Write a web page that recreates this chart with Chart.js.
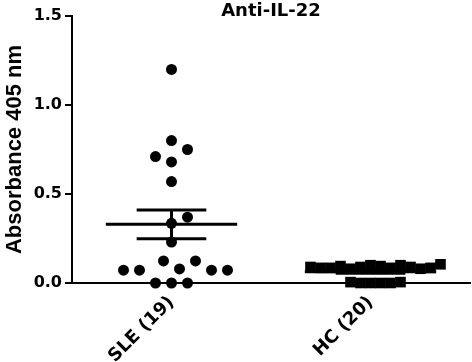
<!DOCTYPE html>
<html>
<head>
<meta charset="utf-8">
<script src="https://cdn.jsdelivr.net/npm/chart.js@4.4.1/dist/chart.umd.min.js"></script>
<style>
    html, body { margin: 0; padding: 0; background: #fff; }
    #wrap { width: 472px; height: 362px; }
</style>
</head>
<body>
<div id="wrap"><canvas id="chart"></canvas></div>
<script>
// data
var categories = ["SLE (19)", "HC (20)"];
var sleValues = [0, 0, 0, 0.079, 0.124, 0.124, 0.072, 0.072, 0.072, 0.072,
                 0.23, 0.335, 0.37, 0.57, 0.80, 0.75, 0.68, 0.71, 1.2];
var hcValues = [0, 0, 0, 0, 0.005, 0.005,
                0.1, 0.095, 0.09, 0.085, 0.08, 0.1, 0.095, 0.09, 0.085, 0.08,
                0.085, 0.085, 0.09, 0.105];
var yTicks = [0, 0.5, 1.0, 1.5];

function mean(a) {
    return a.reduce(function (s, v) { return s + v; }, 0) / a.length;
}
function sem(a) {
    var m = mean(a);
    var ss = a.reduce(function (s, v) { return s + (v - m) * (v - m); }, 0);
    return Math.sqrt(ss / (a.length - 1)) / Math.sqrt(a.length);
}

var groups = [
    { values: sleValues, style: "circle", radius: 5.5, swarm: 16 },
    { values: hcValues, style: "rect", radius: 7.5, swarm: 10 }
];

var datasets = [];
function segment(x1, y1, x2, y2) {
    datasets.push({
        data: [{ x: x1, y: y1 }, { x: x2, y: y2 }],
        showLine: true,
        borderColor: "#000",
        borderWidth: 3,
        pointRadius: 0,
        clip: false,
        order: 0
    });
}

groups.forEach(function (g, i) {
    var c = i + 0.5;
    g.dataIndex = datasets.length;
    datasets.push({
        data: g.values.map(function (v) { return { x: c, y: v }; }),
        pointStyle: g.style,
        pointRadius: g.radius,
        backgroundColor: "#000",
        borderWidth: 0,
        clip: false,
        order: 1
    });
    var m = mean(g.values), s = sem(g.values);
    segment(c - 0.33, m, c + 0.33, m);
    segment(c - 0.175, m + s, c + 0.175, m + s);
    segment(c - 0.175, m - s, c + 0.175, m - s);
    segment(c, m - s, c, m + s);
});

var chart = new Chart(document.getElementById("chart"), {
    type: "scatter",
    data: { datasets: datasets },
    options: {
        responsive: true,
        maintainAspectRatio: false,
        animation: false,
        layout: { padding: { left: 0, right: 2, top: 0, bottom: 0 }, autoPadding: false },
        plugins: {
            legend: { display: false },
            tooltip: { enabled: false },
            title: {
                display: true,
                text: "Anti-IL-22",
                color: "#000",
                fullSize: false,
                font: { family: "'DejaVu Sans'", weight: "bold", size: 18, lineHeight: "10px" },
                padding: { top: 6, bottom: 0 }
            }
        },
        scales: {
            x: {
                type: "linear",
                min: 0,
                max: 2,
                afterBuildTicks: function (s) {
                    s.ticks = categories.map(function (c, i) { return { value: i + 0.5 }; });
                },
                afterFit: function (s) { s.height = 79; },
                ticks: {
                    callback: function (v) { return categories[Math.floor(v)]; },
                    minRotation: 45,
                    maxRotation: 45,
                    autoSkip: false,
                    color: "#000",
                    padding: 4,
                    font: { family: "'DejaVu Sans'", weight: "bold", size: 18 }
                },
                grid: { drawOnChartArea: false, color: "#000", lineWidth: 2, tickLength: 5 },
                border: { color: "#000", width: 2 }
            },
            y: {
                min: 0,
                max: 1.5,
                afterBuildTicks: function (s) {
                    s.ticks = yTicks.map(function (v) { return { value: v }; });
                },
                afterFit: function (s) { s.width = 72; },
                ticks: {
                    callback: function (v) { return v.toFixed(1); },
                    color: "#000",
                    padding: 3,
                    font: { family: "'DejaVu Sans'", weight: "bold", size: 16 }
                },
                grid: { drawOnChartArea: false, color: "#000", lineWidth: 2, tickLength: 7 },
                border: { color: "#000", width: 2 },
                title: {
                    display: true,
                    text: "Absorbance 405 nm",
                    color: "#000",
                    padding: { top: 2, bottom: 0 },
                    font: { family: "'Liberation Sans', Arial", weight: "bold", size: 22 }
                }
            }
        }
    }
});

// spread points sideways (beeswarm) so equal values don't sit on top of each other
function swarm(values, center, diam) {
    var xs = chart.scales.x, ys = chart.scales.y;
    var perUnit = xs.width / (xs.max - xs.min);
    var step = diam / 2;
    var placed = [];
    return values.map(function (v) {
        var py = ys.getPixelForValue(v);
        for (var k = 0; k < 200; k++) {
            var off = (k % 2 === 1 ? 1 : -1) * Math.ceil(k / 2) * step;
            var ok = placed.every(function (p) {
                var dx = p.off - off, dy = p.py - py;
                return dx * dx + dy * dy >= diam * diam - 0.01;
            });
            if (ok) {
                placed.push({ off: off, py: py });
                return { x: center + off / perUnit, y: v };
            }
        }
    });
}

groups.forEach(function (g, i) {
    chart.data.datasets[g.dataIndex].data = swarm(g.values, i + 0.5, g.swarm);
});
chart.update("none");
</script>
</body>
</html>
